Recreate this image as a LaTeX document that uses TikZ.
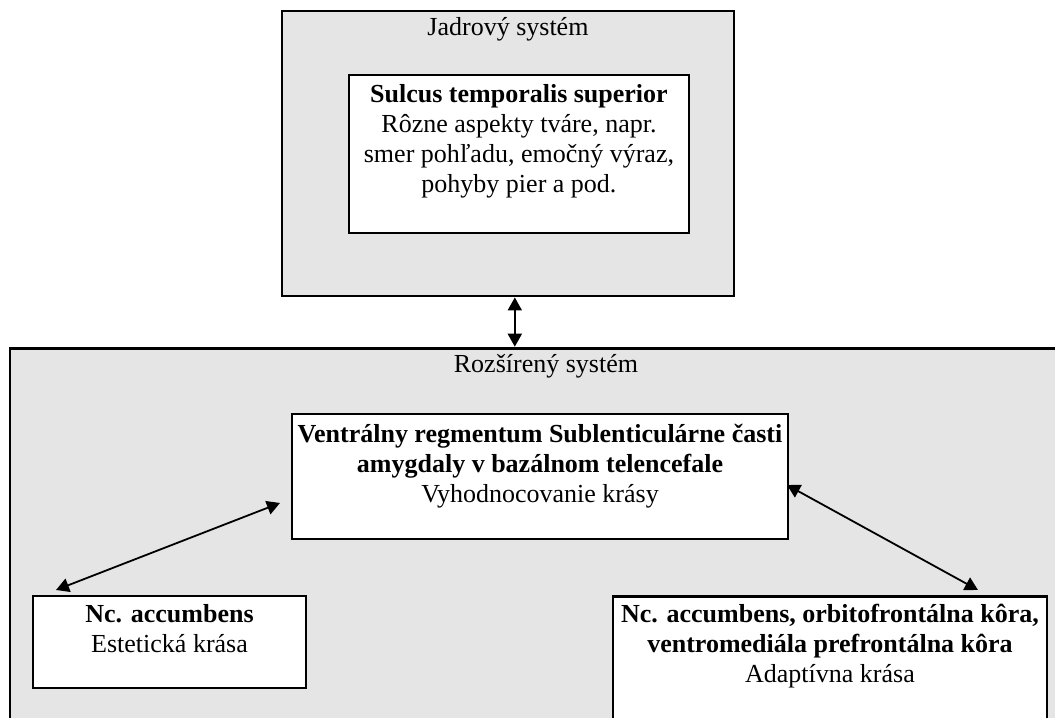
\documentclass[tikz,border=0pt]{standalone}
\usepackage{fontspec}
\setmainfont{Liberation Serif}
\usetikzlibrary{positioning,arrows.meta}
\definecolor{panelgray}{RGB}{229,229,229}

\begin{document}
\begin{tikzpicture}[
    every node/.style={font=\fontsize{13}{15}\selectfont},
    panel/.style={draw, line width=1.4pt, fill=panelgray, inner sep=0pt},
    region/.style={draw, line width=1.4pt, fill=white, inner sep=0pt},
    textblock/.style={align=center, inner sep=0pt},
    link/.style={{Triangle[length=6.5pt,width=7pt]}-{Triangle[length=6.5pt,width=7pt]}, line width=0.9pt}
]
    \useasboundingbox (0,0) rectangle (18.54,12.60);

    % Core system
    \node[panel, minimum width=7.943cm, minimum height=5.008cm] (jadro) at (8.927,9.902) {};
    \node[textblock, below=0.13cm of jadro.north] (jadrotitle) {Jadrový systém};
    \node[region, minimum width=5.975cm, minimum height=2.777cm] (core) at (9.120,9.894) {};
    \node[textblock, below=0.18cm of core.north] (coretext) {\textbf{Sulcus temporalis superior}\\Rôzne aspekty tváre, napr.\\smer pohľadu, emočný výraz,\\pohyby pier a pod.};

    % Extended system
    \node[panel, minimum width=18.84cm, minimum height=6.785cm] (ext) at (9.594,3.09) {};
    \node[textblock, below=0.12cm of ext.north] (exttitle) {Rozšírený systém};
    \node[region, minimum width=8.716cm, minimum height=2.197cm] (beauty) at (9.490,4.226) {};
    \node[textblock, below=0.19cm of beauty.north] (beautytext) {\textbf{Ventrálny regmentum Sublenticulárne časti}\\\textbf{amygdaly v bazálnom telencefale}\\Vyhodnocovanie krásy};
    \node[region, minimum width=4.797cm, minimum height=1.617cm] (accumb) at (2.979,1.318) {};
    \node[textblock, below=0.16cm of accumb.north] (accumbtext) {\textbf{Nc. accumbens}\\Estetická krása};
    \node[region, anchor=north, minimum width=7.627cm, minimum height=2.5cm] (cortex) at (14.586,2.144) {};
    \node[textblock, below=0.16cm of cortex.north] (cortextext) {\textbf{Nc. accumbens, orbitofrontálna kôra,}\\\textbf{ventromediála prefrontálna kôra}\\Adaptívna krása};

    % Arrows
    \coordinate (jadrolink) at ([xshift=0.12cm]jadro.south);
    \coordinate (accumbtip) at (0.984,2.232);
    \coordinate (beautyleft) at (4.920,3.761);
    \coordinate (beautyright) at (13.830,4.077);
    \coordinate (cortextip) at (17.186,2.232);
    \draw[link] (jadrolink) -- (jadrolink |- ext.north);
    \draw[link] (accumbtip) -- (beautyleft);
    \draw[link] (beautyright) -- (cortextip);
\end{tikzpicture}
\end{document}
